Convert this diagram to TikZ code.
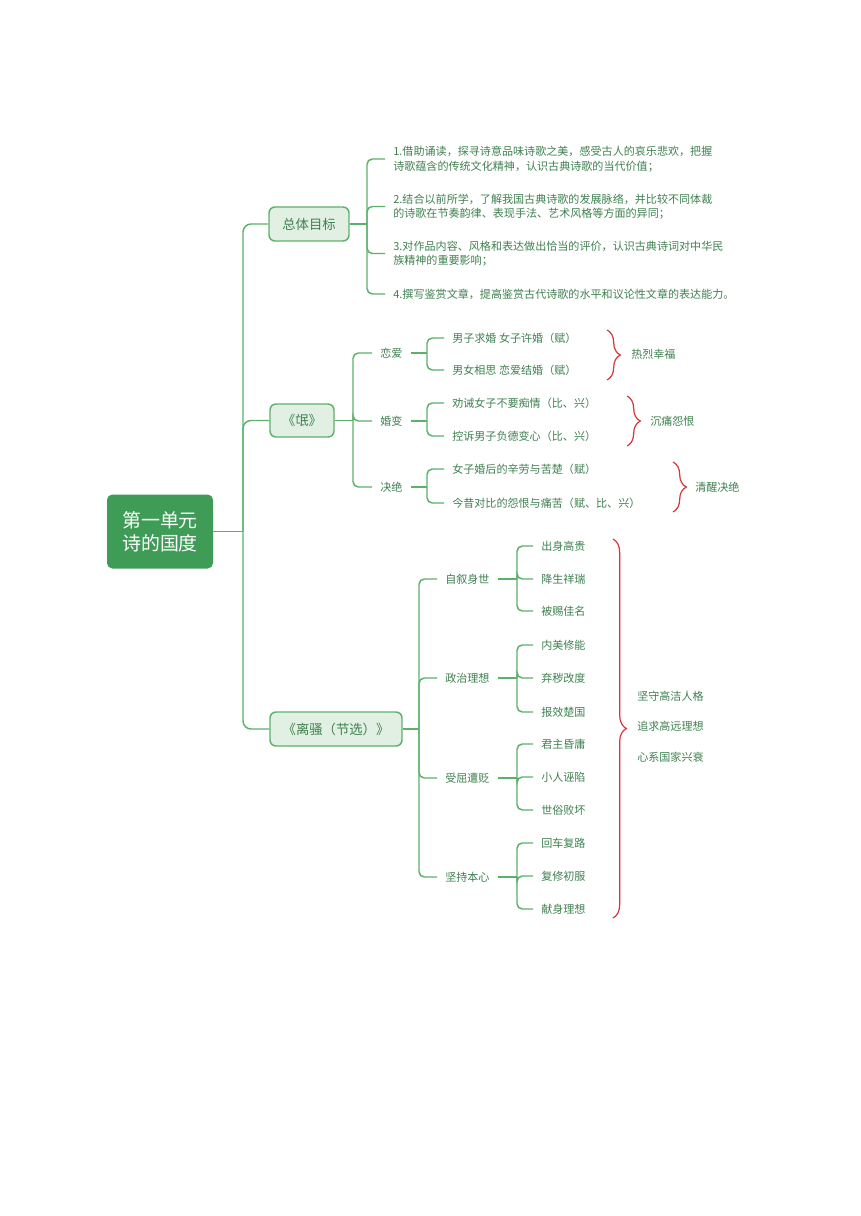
\documentclass[tikz,border=0pt]{standalone}
\usepackage{fontspec}
\setmainfont{Noto Sans CJK SC}
\usetikzlibrary{decorations.pathreplacing}
\definecolor{lineG}{HTML}{5DB16C}
\definecolor{txtG}{HTML}{3F8150}
\definecolor{boxF}{HTML}{E1F0E3}
\definecolor{rootG}{HTML}{3F9C57}
\definecolor{braceR}{HTML}{D8353B}
\begin{document}
\begin{tikzpicture}[x=0.75pt,y=-0.75pt,
  conn/.style={draw=lineG,line width=1.1pt,rounded corners=4pt},
  spine/.style={conn,rounded corners=6pt},
  txt/.style={font=\fontsize{8.3}{11}\selectfont,text=txtG,inner xsep=6pt,inner ysep=1pt,anchor=west},
  goaltxt/.style={txt,align=left,font=\fontsize{8.3}{10.9}\selectfont},
  lbl/.style={txt,inner xsep=0pt},
  subbox/.style={draw=lineG,line width=1.1pt,fill=boxF,rounded corners=4.5pt,text=txtG,font=\fontsize{10}{12}\selectfont,inner sep=0pt,minimum height=25.5pt},
  rootbox/.style={fill=rootG,rounded corners=4pt,text=white,align=center,font=\fontsize{14.2}{17.3}\selectfont,minimum width=79.5pt,minimum height=55.5pt,inner sep=0pt},
  brc/.style={draw=braceR,line width=0.9pt,decorate,decoration={brace,amplitude=10pt}}
]
\useasboundingbox (0,0) rectangle (860,1216);
\fill[white] (0,0) rectangle (860,1216);

% root
\node[rootbox] (root) at (160,531.5) {第一单元\\诗的国度};

% level 1 boxes
\node[subbox,minimum width=60pt] (goal) at (309,224) {总体目标};
\node[subbox,minimum width=48pt,minimum height=24.75pt] (shi) at (302,420.5) {《氓》};
\node[subbox,minimum width=99pt] (lisao) at (336,729) {《离骚（节选）》};

\coordinate (S) at (243,531.5);
\draw[conn] (root.east) -- (S);
\draw[spine] (S) |- (goal.west);
\draw[spine] (S) |- (shi.west);
\draw[spine] (S) |- (lisao.west);

% goals
\node[goaltxt] (g1) at (385,159) {1.借助诵读，探寻诗意品味诗歌之美，感受古人的哀乐悲欢，把握\\诗歌蕴含的传统文化精神，认识古典诗歌的当代价值；};
\node[goaltxt] (g2) at (385,206.5) {2.结合以前所学，了解我国古典诗歌的发展脉络，并比较不同体裁\\的诗歌在节奏韵律、表现手法、艺术风格等方面的异同；};
\node[goaltxt] (g3) at (385,253.5) {3.对作品内容、风格和表达做出恰当的评价，认识古典诗词对中华民\\族精神的重要影响；};
\node[goaltxt] (g4) at (385,294) {4.撰写鉴赏文章，提高鉴赏古代诗歌的水平和议论性文章的表达能力。};
\coordinate (J0) at (367,224);
\draw[conn] (goal.east) -- (J0);
\foreach \n in {g1,g2,g3,g4} \draw[conn] (J0) |- (\n.west);

% Shi
\coordinate (J1) at (353,420.5);
\draw[conn] (shi.east) -- (J1);
\node[txt] (la) at (372,353) {恋爱};
\node[txt] (lb) at (372,421) {婚变};
\node[txt] (lc) at (372,487) {决绝};
\foreach \n in {la,lb,lc} \draw[conn] (J1) |- (\n.west);

\node[txt] (a1) at (444,338) {男子求婚 女子许婚（赋）};
\node[txt] (a2) at (444,370) {男女相思 恋爱结婚（赋）};
\node[txt] (b1) at (444,403) {劝诫女子不要痴情（比、兴）};
\node[txt] (b2) at (444,436) {控诉男子负德变心（比、兴）};
\node[txt] (c1) at (444,469) {女子婚后的辛劳与苦楚（赋）};
\node[txt] (c2) at (444,503) {今昔对比的怨恨与痛苦（赋、比、兴）};
\coordinate (Ja) at (427,353);
\coordinate (Jb) at (427,421);
\coordinate (Jc) at (427,487);
\draw[conn] (la.east) -- (Ja);
\draw[conn] (lb.east) -- (Jb);
\draw[conn] (lc.east) -- (Jc);
\draw[conn] (Ja) |- (a1.west); \draw[conn] (Ja) |- (a2.west);
\draw[conn] (Jb) |- (b1.west); \draw[conn] (Jb) |- (b2.west);
\draw[conn] (Jc) |- (c1.west); \draw[conn] (Jc) |- (c2.west);

\coordinate (ba1) at (607,330); \coordinate (ba2) at (607,380);
\coordinate (bb1) at (627,396); \coordinate (bb2) at (627,446);
\coordinate (bc1) at (673,462); \coordinate (bc2) at (673,512);
\draw[brc] (ba1) -- (ba2);
\draw[brc] (bb1) -- (bb2);
\draw[brc] (bc1) -- (bc2);
\node[lbl] (sa) at (631,354) {热烈幸福};
\node[lbl] (sb) at (650,421) {沉痛怨恨};
\node[lbl] (sc) at (695,487) {清醒决绝};

% Li Sao
\coordinate (J2) at (419,729);
\draw[conn] (lisao.east) -- (J2);
\node[txt] (p1) at (437,579) {自叙身世};
\node[txt] (p2) at (437,678) {政治理想};
\node[txt] (p3) at (437,778) {受屈遭贬};
\node[txt] (p4) at (437,877) {坚持本心};
\foreach \n in {p1,p2,p3,p4} \draw[conn] (J2) |- (\n.west);

\node[txt] (q11) at (533,546) {出身高贵};
\node[txt] (q12) at (533,579) {降生祥瑞};
\node[txt] (q13) at (533,611) {被赐佳名};
\node[txt] (q21) at (533,645) {内美修能};
\node[txt] (q22) at (533,678) {弃秽改度};
\node[txt] (q23) at (533,712) {报效楚国};
\node[txt] (q31) at (533,744) {君主昏庸};
\node[txt] (q32) at (533,777) {小人诬陷};
\node[txt] (q33) at (533,810) {世俗败坏};
\node[txt] (q41) at (533,843) {回车复路};
\node[txt] (q42) at (533,876) {复修初服};
\node[txt] (q43) at (533,909) {献身理想};

\coordinate (K1) at (517,579);
\coordinate (K2) at (517,678);
\coordinate (K3) at (517,778);
\coordinate (K4) at (517,877);
\draw[conn] (p1.east) -- (K1);
\draw[conn] (p2.east) -- (K2);
\draw[conn] (p3.east) -- (K3);
\draw[conn] (p4.east) -- (K4);
\foreach \k in {1,2,3,4}{
  \foreach \j in {1,2,3}{
    \draw[conn] (K\k) |- (q\k\j.west);
  }
}

\coordinate (bd1) at (613,539); \coordinate (bd2) at (613,918);
\draw[brc] (bd1) -- (bd2);
\node[lbl] (r1) at (637,696) {坚守高洁人格};
\node[lbl] (r2) at (637,726) {追求高远理想};
\node[lbl] (r3) at (637,757) {心系国家兴衰};
\end{tikzpicture}
\end{document}
